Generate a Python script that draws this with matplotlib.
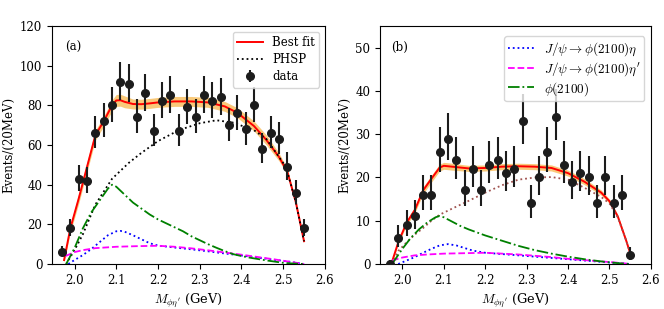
import numpy as np
import matplotlib
matplotlib.use("Agg")
import matplotlib.pyplot as plt

plt.rcParams['font.family'] = ['DejaVu Serif']
plt.rcParams['mathtext.fontset'] = 'cm'
plt.rcParams['font.size'] = 8.5

# ---------------- data ----------------
bins = [1.97, 1.99, 2.01, 2.03, 2.05, 2.07, 2.09, 2.11, 2.13, 2.15, 2.17, 2.19, 2.21, 2.23, 2.25,
        2.27, 2.29, 2.31, 2.33, 2.35, 2.37, 2.39, 2.41, 2.43, 2.45, 2.47, 2.49, 2.51, 2.53, 2.55]
counts_a = [6, 18, 43, 42, 66, 72, 80, 92, 91, 74, 86, 67, 82, 85, 67,
            79, 74, 85, 82, 84, 70, 76, 68, 80, 58, 66, 63, 49, 36, 18]
counts_b = [0, 6, 9, 11, 16, 16, 26, 29, 24, 17, 22, 17, 23, 24, 21,
            22, 33, 14, 20, 26, 34, 23, 19, 21, 20, 14, 20, 14, 16, 2]

# panel (a) curves
fit_a_x = [1.975, 1.99, 2.01, 2.03, 2.05, 2.07, 2.09, 2.10, 2.11, 2.12, 2.14, 2.16, 2.18, 2.20, 2.24,
           2.28, 2.32, 2.36, 2.39, 2.43, 2.46, 2.49, 2.51, 2.53, 2.55]
fit_a_y = [2, 18, 33, 49, 65, 72, 80, 82.5, 82.6, 81.8, 80.7, 80.6, 81.0, 81.5, 82.0,
           82.0, 81.5, 79.5, 76.3, 69.6, 62.5, 54.0, 46.5, 31.5, 11.5]
fit_a_err = [1, 2, 2.5, 2.5, 2.5, 2.5, 2.8, 3, 3, 3, 2.5, 2.5, 2.5, 2.5, 2.5,
             2.5, 2.5, 2.5, 2.5, 2.5, 2.5, 2, 1.5, 1, 0.5]
phsp_a_x = [1.98, 2.00, 2.02, 2.05, 2.09, 2.13, 2.16, 2.20, 2.25, 2.30, 2.34, 2.38, 2.43, 2.46, 2.50,
            2.51, 2.53, 2.55]
phsp_a_y = [0, 7, 15, 30, 43, 51, 56, 62, 67.5, 71, 72.5, 71.3, 67.5, 63, 51,
            46.5, 31.5, 11.5]
eta_a_x = [1.985, 2.00, 2.02, 2.04, 2.06, 2.08, 2.10, 2.11, 2.12, 2.14, 2.16, 2.18, 2.20, 2.24,
           2.28, 2.32, 2.36, 2.40, 2.44, 2.48, 2.52, 2.55]
eta_a_y = [0, 2, 4.5, 7.5, 11, 14.5, 16.5, 16.7, 16.3, 14.5, 12.5, 10.5, 9.3, 8.3,
           7.4, 6.4, 5.3, 4.3, 3.2, 2.1, 1.0, 0]
etap_a_x = [1.978, 2.00, 2.02, 2.05, 2.10, 2.15, 2.20, 2.24, 2.28, 2.32, 2.36, 2.40, 2.44, 2.48,
            2.52, 2.55]
etap_a_y = [4, 6, 7, 8, 8.7, 9.0, 9.2, 8.7, 7.9, 6.9, 5.8, 4.7, 3.5, 2.3, 1.0, 0]
res_a_x = [1.98, 2.00, 2.02, 2.04, 2.06, 2.08, 2.09, 2.10, 2.12, 2.14, 2.16, 2.18, 2.20, 2.22,
           2.24, 2.26, 2.28, 2.30, 2.32, 2.34, 2.36, 2.38, 2.40, 2.42, 2.44, 2.46, 2.48, 2.50,
           2.52, 2.55]
res_a_y = [0, 8, 18, 26, 32, 38, 40, 39, 35, 31, 28, 25, 22.5, 20.5,
           18.5, 16.5, 14, 12, 10, 8.2, 6.5, 5, 4, 3.2, 2.5, 1.8, 1.2, 0.6, 0.3, 0]

# panel (b) curves
fit_b_x = [1.975, 1.99, 2.01, 2.03, 2.05, 2.07, 2.09, 2.10, 2.12, 2.16, 2.20, 2.24, 2.28, 2.32,
           2.36, 2.40, 2.44, 2.48, 2.50, 2.52, 2.54, 2.55]
fit_b_y = [0.5, 5, 9.5, 12.5, 17, 19.7, 22.3, 22.7, 22.5, 22.1, 22.2, 22.5, 22.6, 22.5,
           22.2, 21.0, 19.0, 16.5, 14.5, 11, 5.5, 2.5]
fit_b_err = [0.2, 0.4, 0.6, 0.7, 0.8, 0.8, 0.8, 0.8, 0.8, 0.7, 0.7, 0.7, 0.7, 0.7,
             0.7, 0.7, 0.7, 0.6, 0.5, 0.4, 0.3, 0.2]
phsp_b_x = [1.975, 1.99, 2.01, 2.03, 2.05, 2.07, 2.09, 2.12, 2.16, 2.20, 2.24, 2.28, 2.32, 2.36,
            2.40, 2.44, 2.48, 2.50, 2.52, 2.54, 2.55]
phsp_b_y = [0, 3, 5, 6.8, 8.3, 10, 11.4, 12.8, 14.6, 16.5, 18.2, 19.5, 20.0, 20.1,
            19.5, 17.6, 15.5, 14, 10.8, 5.5, 2.5]
eta_b_x = [1.99, 2.01, 2.03, 2.05, 2.07, 2.09, 2.11, 2.13, 2.15, 2.17, 2.20, 2.24, 2.28, 2.32,
           2.36, 2.40, 2.44, 2.48, 2.52, 2.55]
eta_b_y = [0, 0.8, 1.6, 2.6, 3.5, 4.3, 4.6, 4.3, 3.7, 3.1, 2.6, 2.3, 2.0, 1.7,
           1.4, 1.1, 0.8, 0.5, 0.2, 0]
etap_b_x = [1.975, 2.00, 2.03, 2.06, 2.10, 2.15, 2.20, 2.24, 2.28, 2.32, 2.36, 2.40, 2.44, 2.48,
            2.52, 2.55]
etap_b_y = [0.8, 1.5, 2.0, 2.2, 2.4, 2.5, 2.6, 2.4, 2.2, 1.9, 1.6, 1.2, 0.9, 0.6, 0.3, 0]
res_b_x = [1.975, 2.00, 2.02, 2.04, 2.06, 2.08, 2.09, 2.10, 2.12, 2.14, 2.16, 2.18, 2.20, 2.24,
           2.28, 2.32, 2.36, 2.40, 2.44, 2.48, 2.52, 2.55]
res_b_y = [0, 3.5, 6, 8, 9.6, 10.8, 11.1, 10.8, 9.8, 8.8, 8.0, 7.3, 6.6, 5.4,
           4.2, 3.2, 2.4, 1.7, 1.1, 0.6, 0.2, 0]

xticks = [2.0, 2.1, 2.2, 2.3, 2.4, 2.5, 2.6]
yticks_a = [0, 20, 40, 60, 80, 100, 120]
yticks_b = [0, 10, 20, 30, 40, 50]

# ---------------- plotting ----------------
fig = plt.figure(figsize=(6.64, 3.09), dpi=100)
axa = fig.add_axes([0.0783, 0.1456, 0.411, 0.770])
axb = fig.add_axes([0.5723, 0.1456, 0.408, 0.770])


def poisson_err(c):
    c = np.asarray(c, dtype=float)
    s = np.sqrt(c + 0.25)
    return [s - 0.5, s + 0.5]


def draw(ax, counts, fx, fy, fe, px, py, ex, ey, epx, epy, rx, ry, phsp_color, phsp_lw):
    fx = np.asarray(fx); fy = np.asarray(fy); fe = np.asarray(fe)
    ax.fill_between(fx, fy - fe, fy + fe, color='#f8b84e', alpha=0.75, lw=0, zorder=2)
    h_fit, = ax.plot(fx, fy, color='red', lw=1.4, zorder=3, label='Best fit')
    h_phsp, = ax.plot(px, py, color=phsp_color, ls=':', lw=phsp_lw, zorder=3, label='PHSP')
    h_eta, = ax.plot(ex, ey, color='blue', ls=':', lw=1.3, zorder=3,
                     label=r'$J/\psi\to\phi(2100)\eta$')
    h_etap, = ax.plot(epx, epy, color='magenta', ls='--', lw=1.3, zorder=3,
                      label=r"$J/\psi\to\phi(2100)\eta'$")
    h_res, = ax.plot(rx, ry, color='green', ls='-.', lw=1.3, zorder=3,
                     label=r'$\phi(2100)$')
    h_data = ax.errorbar(bins, counts, yerr=poisson_err(counts), fmt='o', color='#1c1c1c',
                         ms=5.5, elinewidth=1.5, capsize=0, zorder=4, label='data')
    return h_fit, h_phsp, h_data, h_eta, h_etap, h_res


ha = draw(axa, counts_a, fit_a_x, fit_a_y, fit_a_err, phsp_a_x, phsp_a_y,
          eta_a_x, eta_a_y, etap_a_x, etap_a_y, res_a_x, res_a_y, 'black', 1.3)
hb = draw(axb, counts_b, fit_b_x, fit_b_y, fit_b_err, phsp_b_x, phsp_b_y,
          eta_b_x, eta_b_y, etap_b_x, etap_b_y, res_b_x, res_b_y, '#a0524f', 1.3)

axa.set_xlim(1.946, 2.6)
axb.set_xlim(1.946, 2.6)
axa.set_ylim(0, 120)
axb.set_ylim(0, 55)
for ax in (axa, axb):
    ax.set_xticks(xticks)
    ax.set_xlabel(r"$M_{\phi\eta'}$ (GeV)", fontsize=9.3, labelpad=3)
    ax.set_ylabel('Events/(20MeV)', fontsize=8.5, labelpad=3)
    ax.tick_params(labelsize=8.5, length=3.5)
axa.set_yticks(yticks_a)
axb.set_yticks(yticks_b)

axa.text(0.048, 0.895, '(a)', transform=axa.transAxes, fontsize=8.5)
axb.text(0.04, 0.895, '(b)', transform=axb.transAxes, fontsize=8.5)

axa.legend(handles=[ha[0], ha[1], ha[2]], loc='upper right', fontsize=8.5,
           handlelength=2.2, borderpad=0.35, labelspacing=0.35, handletextpad=0.8)
axb.legend(handles=[hb[3], hb[4], hb[5]], loc='upper right', fontsize=9.5,
           handlelength=2.0, borderpad=0.3, labelspacing=0.15, handletextpad=0.7,
           bbox_to_anchor=(1.0, 0.985))

fig.savefig('out.png', dpi=100)
